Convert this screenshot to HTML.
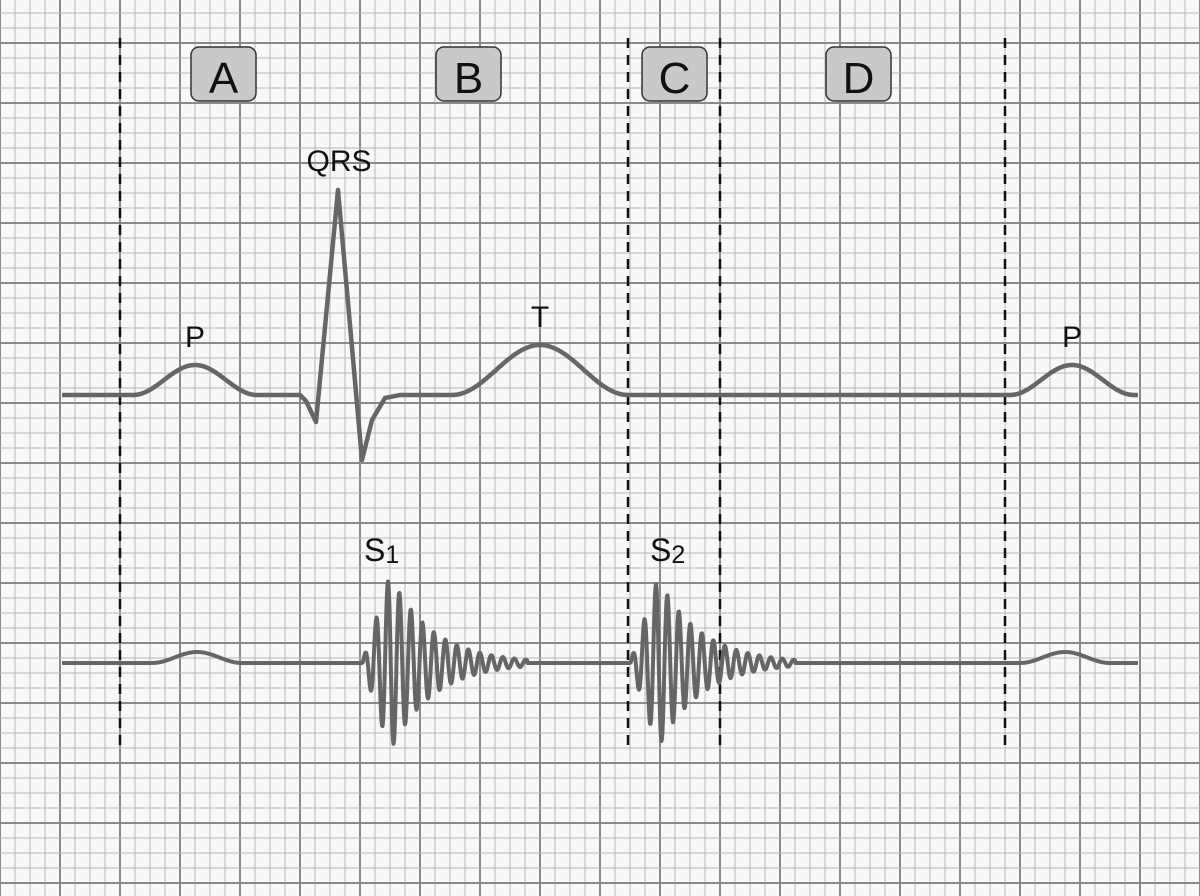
<!DOCTYPE html>
<html><head><meta charset="utf-8"><style>
html,body{margin:0;padding:0;background:#fff}
svg{display:block}
text{font-family:"Liberation Sans",sans-serif;fill:#111}
</style></head><body>
<svg id="s" width="1200" height="896" viewBox="0 0 1200 896" xmlns="http://www.w3.org/2000/svg">
<rect width="1200" height="896" fill="#f8f8f8"/>
<g id="grid"></g>
<g stroke="#111" stroke-width="2.5" stroke-dasharray="10,7">
<line x1="120" y1="38" x2="120" y2="746"/>
<line x1="628" y1="38" x2="628" y2="746"/>
<line x1="720" y1="38" x2="720" y2="746"/>
<line x1="1005" y1="38" x2="1005" y2="746"/>
</g>
<g fill="#c9c9c9" stroke="#333" stroke-width="1.5">
<rect x="191" y="47" width="65" height="54" rx="8"/>
<rect x="436" y="47" width="65" height="54" rx="8"/>
<rect x="642" y="47" width="65" height="54" rx="8"/>
<rect x="826" y="47" width="65" height="54" rx="8"/>
</g>
<g font-size="44" text-anchor="middle">
<text x="223.5" y="93">A</text>
<text x="468.5" y="93">B</text>
<text x="674.5" y="93">C</text>
<text x="858.5" y="93">D</text>
</g>
<path id="ecg" fill="none" stroke="#666" stroke-width="4.5" stroke-linejoin="round"/>
<path id="snd" fill="none" stroke="#666" stroke-width="4" stroke-linejoin="round"/>
<g font-size="30" text-anchor="middle">
<text x="339" y="171">QRS</text>
<text x="195" y="347">P</text>
<text x="540" y="327">T</text>
<text x="1072" y="347">P</text>
</g>
<text x="364" y="561" font-size="32">S<tspan font-size="25" dy="2">1</tspan></text>
<text x="650" y="561" font-size="32">S<tspan font-size="25" dy="2">2</tspan></text>
</svg>
<script>
var g=document.getElementById('grid'),h='';
for(var x=0;x<=1200;x+=15){var m=(x%60==0);h+='<line x1="'+x+'" y1="0" x2="'+x+'" y2="896" stroke="'+(m?'#8a8a8a':'#b8b8b8')+'" stroke-width="'+(m?2:1)+'"/>';}
for(var y=-2;y<=896;y+=15){var m=((y-43)%60==0);h+='<line x1="0" y1="'+y+'" x2="1200" y2="'+y+'" stroke="'+(m?'#8a8a8a':'#b8b8b8')+'" stroke-width="'+(m?2:1)+'"/>';}
g.innerHTML=h;
function bump(x,c,w,a){var t=(x-c)/w;return Math.abs(t)>1?0:a*(0.5+0.5*Math.cos(Math.PI*t));}
function tri(x,pts){for(var i=0;i<pts.length-1;i++){var p=pts[i],q=pts[i+1];if(x>=p[0]&&x<=q[0])return p[1]+(q[1]-p[1])*(x-p[0])/(q[0]-p[0]);}return 0;}
var d='';
for(var x=62;x<=1138;x+=1){
 var y=395-bump(x,195,62,30)-bump(x,540,88,50)-bump(x,1072,62,30);
 y+=tri(x,[[300,0],[306,6],[316,27],[338,-205],[362,65],[372,25],[385,3],[400,0]]);
 d+=(x==62?'M':'L')+x+' '+y.toFixed(1);
}
document.getElementById('ecg').setAttribute('d',d);
function burst(x,s,A){var t=x-s;if(t<0||t>165)return 0;var env=t<28?A*t/28:A*Math.exp(-(t-28)/42);return env*Math.sin(2*Math.PI*t/11.5);}
var e='';
for(var x=62;x<=1138;x+=0.5){
 var y=663-bump(x,197,45,11)-bump(x,1065,45,11)-burst(x,362,88)-burst(x,630,85);
 e+=(x==62?'M':'L')+x+' '+y.toFixed(1);
}
document.getElementById('snd').setAttribute('d',e);
</script>
</body></html>
